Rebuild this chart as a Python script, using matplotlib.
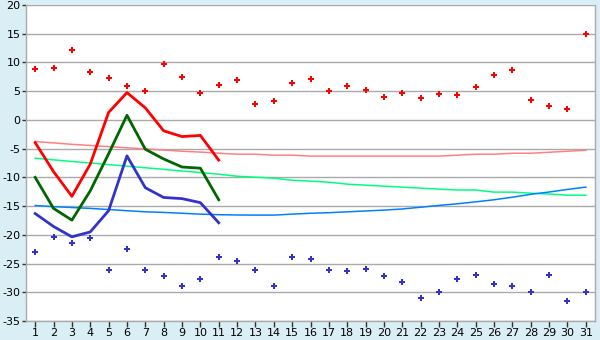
import matplotlib
matplotlib.use("Agg")
import matplotlib.pyplot as plt

days = list(range(1, 32))

max_pts = [8.8, 9.0, 12.1, 8.3, 7.25, 5.86, 5.0, 9.7, 7.4, 4.6, 6.0, 6.9, 2.7, 3.25,
           6.4, 7.1, 5.0, 5.86, 5.2, 3.95, 4.6, 3.77, 4.47, 4.3, 5.68, 7.77, 8.64,
           3.42, 2.38, 1.86, 14.9]
min_pts = [-23.0, -20.4, -21.4, -20.6, -26.1, -22.5, -26.1, -27.2, -28.9, -27.7, -23.9,
           -24.6, -26.1, -28.9, -23.9, -24.2, -26.1, -26.3, -26.0, -27.2, -28.2, -31.0,
           -30.0, -27.7, -27.0, -28.6, -28.9, -30.0, -27.0, -31.5, -30.0]

line_days = list(range(1, 12))
red_line = [-3.95, -9.0, -13.3, -7.7, 1.3, 4.75, 2.1, -1.9, -2.9, -2.7, -7.0]
green_line = [-10.0, -15.4, -17.45, -12.35, -5.9, 0.8, -5.1, -6.8, -8.2, -8.4, -13.9]
blue_line = [-16.3, -18.55, -20.35, -19.5, -15.8, -6.26, -11.8, -13.5, -13.7, -14.4, -17.9]

pink_trend = [-3.77, -4.0, -4.25, -4.45, -4.65, -4.85, -5.05, -5.25, -5.45, -5.6, -5.8,
              -5.97, -5.97, -6.14, -6.14, -6.3, -6.3, -6.3, -6.3, -6.3, -6.3, -6.3,
              -6.3, -6.14, -5.97, -5.97, -5.8, -5.8, -5.63, -5.45, -5.28]
green_trend = [-6.67, -6.95, -7.23, -7.5, -7.78, -8.05, -8.33, -8.6, -8.9, -9.17, -9.45,
               -9.8, -9.97, -10.14, -10.5, -10.66, -10.84, -11.18, -11.36, -11.53, -11.7,
               -11.88, -12.05, -12.2, -12.2, -12.57, -12.57, -12.75, -12.9, -13.1, -13.1]
blue_trend = [-14.9, -15.1, -15.25, -15.4, -15.6, -15.8, -16.0, -16.1, -16.25, -16.4, -16.5,
              -16.55, -16.57, -16.57, -16.4, -16.25, -16.15, -16.0, -15.85, -15.7, -15.5,
              -15.2, -14.88, -14.6, -14.26, -13.9, -13.45, -12.95, -12.55, -12.1, -11.7]

yticks = list(range(-35, 25, 5))

bg = "#D9EEF5"
fig = plt.figure(figsize=(6, 3.4), dpi=100, facecolor=bg)
ax = fig.add_axes([26/600, 1-321/340, (595-26)/600, (321-5)/340])
ax.set_facecolor("white")

ax.plot(days, pink_trend, color="#FF8080", lw=1.1, zorder=2)
ax.plot(days, green_trend, color="#00FF80", lw=1.1, zorder=2)
ax.plot(days, blue_trend, color="#0080FF", lw=1.1, zorder=2)

ax.plot(line_days, red_line, color="#FF0000", lw=2, zorder=3)
ax.plot(line_days, green_line, color="#006600", lw=2, zorder=3)
ax.plot(line_days, blue_line, color="#3333CC", lw=2, zorder=3)

ax.plot(days, max_pts, ls="none", marker="P", ms=5, color="#FF0000", mew=0, zorder=4)
ax.plot(days, min_pts, ls="none", marker="P", ms=5, color="#3333CC", mew=0, zorder=4)

ax.set_xlim(0.5, 31.5)
ax.set_ylim(-35, 20)
ax.set_xticks(days)
ax.set_xticklabels([str(d) for d in days])
ax.set_yticks(yticks)
ax.set_yticklabels([str(v) for v in yticks])
ax.grid(axis="y", color="#AAAAAA", lw=1)
ax.set_axisbelow(True)
for s in ["left", "bottom", "right"]:
    ax.spines[s].set_color("#AAAAAA")
    ax.spines[s].set_linewidth(1)
ax.spines["top"].set_visible(False)
ax.tick_params(axis="both", direction="out", width=1, color="#333333",
               labelsize=8, labelcolor="black")
ax.tick_params(axis="x", length=4, pad=1)
ax.tick_params(axis="y", length=3, pad=1)

fig.savefig("out.png", dpi=100, facecolor=bg)
